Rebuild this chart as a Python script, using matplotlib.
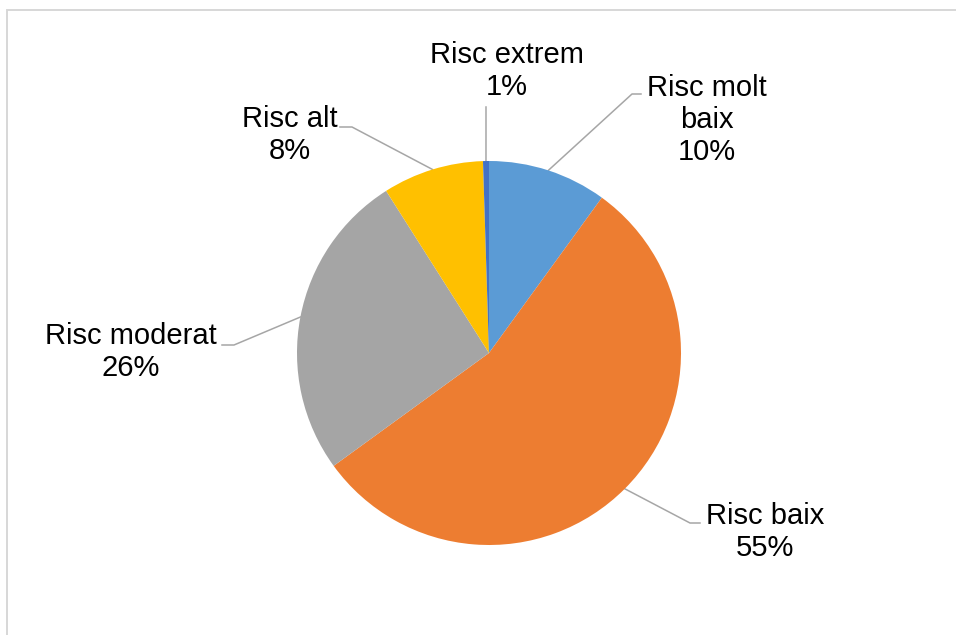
import matplotlib.pyplot as plt
import numpy as np

# Dades del gràfic
categories = ["Risc molt baix", "Risc baix", "Risc moderat", "Risc alt", "Risc extrem"]
valors = [10, 55, 26, 8.5, 0.5]
etiquetes_pct = ["10%", "55%", "26%", "8%", "1%"]
colors = ["#5B9BD5", "#ED7D31", "#A5A5A5", "#FFC000", "#4472C4"]

W, H = 956, 635
plt.rcParams['font.family'] = ['Liberation Sans', 'DejaVu Sans']

fig = plt.figure(figsize=(W / 100, H / 100), dpi=100)
ax = fig.add_axes([0, 0, 1, 1])


def py(y):
    # coordenades en píxels de dalt a baix
    return H - y


# marc del gràfic (només es veuen vora superior i esquerra)
ax.plot([7.5, 7.5, W + 5], [-5, py(9.8), py(9.8)], color="#D6D6D6", lw=1.35,
        solid_joinstyle='miter')

cx, cy, r = 489, 353, 192
wedges, _ = ax.pie(valors, colors=colors, startangle=90, counterclock=False,
                   center=(cx, py(cy)), radius=r, frame=True,
                   wedgeprops=dict(linewidth=0))
ax.set_xlim(0, W)
ax.set_ylim(0, H)
ax.set_aspect('equal')
ax.axis('off')

# posicions de les etiquetes: (colze, final de línia, text x, text y, text)
etiquetes = [
    ((632, 94), (641, 94), 707, 120, "Risc molt\nbaix\n" + etiquetes_pct[0]),
    ((690, 523), (700, 523), 765, 532, "Risc baix\n" + etiquetes_pct[1]),
    ((234, 345), (222, 345), 130.5, 352, "Risc moderat\n" + etiquetes_pct[2]),
    ((352, 127), (340, 127), 290, 135, "Risc alt\n" + etiquetes_pct[3]),
    ((486, 107), (486, 107), 507, 71, "Risc extrem\n" + etiquetes_pct[4]),
]

for w, (colze, fi, tx, ty, text) in zip(wedges, etiquetes):
    ang = np.deg2rad((w.theta1 + w.theta2) / 2)
    x0 = cx + r * np.cos(ang)
    y0 = py(cy) + r * np.sin(ang)
    ax.plot([x0, colze[0], fi[0]], [y0, py(colze[1]), py(fi[1])],
            color="#A6A6A6", lw=1.1, zorder=0)
    ax.text(tx, py(ty), text, ha='center', va='center', fontsize=21,
            color="black", linespacing=1.2)

plt.savefig("out.png", dpi=100, facecolor="white")
plt.close()
